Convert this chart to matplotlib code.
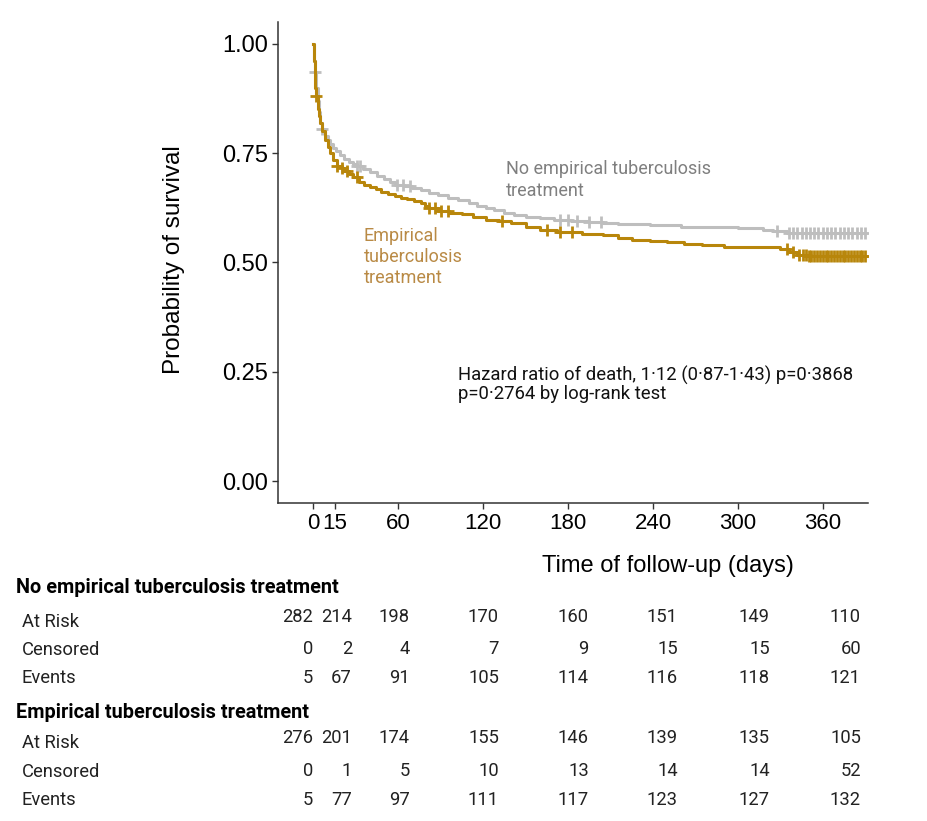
import numpy as np
import matplotlib.pyplot as plt

# Kaplan-Meier steps (days, survival probability)
no_tb_time = [0, 0.3, 0.6, 1, 2, 3, 4, 5, 6, 8, 10, 12, 14, 16, 19, 22, 25, 28, 31,
              35, 40, 45, 50, 54, 58, 64, 70, 76, 82, 88, 95, 102, 110, 116, 122,
              128, 135, 142, 150, 160, 170, 182, 195, 205, 215, 238, 260, 300,
              318, 325, 335, 390]
no_tb_surv = [1.0, 0.982, 0.96, 0.935, 0.90, 0.87, 0.845, 0.82, 0.805, 0.79, 0.78,
              0.77, 0.762, 0.755, 0.745, 0.737, 0.73, 0.725, 0.72, 0.713, 0.706,
              0.698, 0.69, 0.684, 0.678, 0.674, 0.67, 0.665, 0.66, 0.654, 0.648,
              0.642, 0.635, 0.629, 0.624, 0.619, 0.614, 0.609, 0.605, 0.601, 0.598,
              0.596, 0.593, 0.59, 0.588, 0.585, 0.582, 0.578, 0.575, 0.572, 0.567,
              0.567]
no_tb_censor = [1, 6, 31, 33, 59, 63, 68, 174, 180, 186, 195, 203, 328,
                336, 339, 342, 345, 348, 351, 354, 357, 360, 363, 366, 369,
                372, 375, 378, 381, 384, 387, 390]

tb_time = [0, 0.3, 0.7, 1, 1.5, 2, 3, 4, 5, 6, 8, 10, 12, 14, 17, 20, 22, 25, 28,
           32, 36, 40, 44, 48, 53, 58, 62, 66, 71, 76, 79, 82, 88, 96, 105, 113,
           122, 131, 140, 150, 160, 172, 190, 205, 215, 225, 238, 250, 262, 275,
           290, 330, 336, 342, 350, 390]
tb_surv = [1.0, 0.982, 0.96, 0.93, 0.90, 0.88, 0.85, 0.835, 0.82, 0.80, 0.78,
           0.765, 0.75, 0.735, 0.72, 0.715, 0.71, 0.703, 0.695, 0.685, 0.678,
           0.672, 0.667, 0.662, 0.657, 0.652, 0.648, 0.645, 0.64, 0.635, 0.63,
           0.625, 0.618, 0.614, 0.61, 0.604, 0.598, 0.594, 0.59, 0.582, 0.574,
           0.57, 0.566, 0.562, 0.557, 0.552, 0.549, 0.546, 0.543, 0.54, 0.536,
           0.53, 0.525, 0.518, 0.514, 0.514]
tb_censor = [2, 17, 20, 24, 31, 82, 86, 90, 95, 133, 165, 174, 183,
             335, 339, 343, 346, 348, 350, 352, 354, 356, 358, 360, 362, 364,
             366, 368, 370, 372, 374, 376, 378, 380, 382, 384, 386, 388, 390]

x_ticks = [0, 15, 60, 120, 180, 240, 300, 360]
y_ticks = [0.0, 0.25, 0.5, 0.75, 1.0]

# numbers at risk table
row_names = ["At Risk", "Censored", "Events"]
no_tb_at_risk = [282, 214, 198, 170, 160, 151, 149, 110]
no_tb_censored = [0, 2, 4, 7, 9, 15, 15, 60]
no_tb_events = [5, 67, 91, 105, 114, 116, 118, 121]
tb_at_risk = [276, 201, 174, 155, 146, 139, 135, 105]
tb_censored = [0, 1, 5, 10, 13, 14, 14, 52]
tb_events = [5, 77, 97, 111, 117, 123, 127, 132]

GREY = "#BEBEBE"
GOLD = "#B8860B"

W, H = 928, 821
fig = plt.figure(figsize=(W / 100, H / 100), dpi=100)
ax = fig.add_axes([278 / W, 1 - 503 / H, 590 / W, 481 / H])


def surv_at(times, surv, t):
    i = np.searchsorted(times, t, side="right") - 1
    return np.asarray(surv)[i]


for times, surv, cens, col in [(no_tb_time, no_tb_surv, no_tb_censor, GREY),
                               (tb_time, tb_surv, tb_censor, GOLD)]:
    ax.step(times, surv, where="post", color=col, lw=2.2, zorder=3)
    ax.plot(cens, [surv_at(times, surv, c) for c in cens], ls="none",
            marker="+", ms=9, mew=2, color=col, zorder=3)

ax.set_xlim(-25, 392)
ax.set_ylim(-0.05, 1.05)
ax.set_xticks(x_ticks)
ax.set_xticklabels([str(v) for v in x_ticks], fontsize=16,
                   fontfamily="Liberation Sans")
ax.set_yticks(y_ticks)
ax.set_yticklabels([f"{v:.2f}" for v in y_ticks], fontsize=17,
                   fontfamily="Liberation Sans")
ax.tick_params(length=4, width=1, color="#333333", pad=3)
for s in ["top", "right"]:
    ax.spines[s].set_visible(False)
for s in ["left", "bottom"]:
    ax.spines[s].set_color("#333333")
    ax.spines[s].set_linewidth(1.1)


def px(x, y):
    return x / W, 1 - y / H


def lines(x, ys, texts, **kw):
    for y, t in zip(ys, texts):
        fig.text(*px(x, y), t, ha="left", va="center", **kw)


fig.text(*px(174, 260), "Probability of survival", rotation=90, ha="center",
         va="center", fontsize=17.5, fontfamily="Liberation Sans")
fig.text(*px(668, 566), "Time of follow-up (days)", ha="center", va="center",
         fontsize=17, fontfamily="Liberation Sans")

lines(506, [169, 191], ["No empirical tuberculosis", "treatment"],
      fontsize=13, fontfamily="Roboto", color="#7F7F7F")
lines(364, [236, 257, 278], ["Empirical", "tuberculosis", "treatment"],
      fontsize=13, fontfamily="Roboto", color="#B98A45")
lines(458, [375, 394], ["Hazard ratio of death, 1\u00b712 (0\u00b787-1\u00b743) p=0\u00b73868",
                        "p=0\u00b72764 by log-rank test"],
      fontsize=13.3, fontfamily="Roboto", color="#111111")

# risk table below the plot
col_right = [313, 352, 410, 499, 589, 678, 770, 861]
groups = [("No empirical tuberculosis treatment", 587, [617, 649, 678], [622, 650, 678],
           [no_tb_at_risk, no_tb_censored, no_tb_events]),
          ("Empirical tuberculosis treatment", 713, [738, 771, 800], [743, 772, 800],
           [tb_at_risk, tb_censored, tb_events])]
for title, ty, num_y, lab_y, rows in groups:
    fig.text(*px(16, ty), title, ha="left", va="center", fontsize=14.3,
             fontweight="bold", fontfamily="Roboto")
    for name, ny, ly, vals in zip(row_names, num_y, lab_y, rows):
        fig.text(*px(22, ly), name, ha="left", va="center", fontsize=13.2,
                 fontfamily="Roboto", color="#222222")
        for xr, v in zip(col_right, vals):
            fig.text(*px(xr, ny), str(v), ha="right", va="center",
                     fontsize=13.2, fontfamily="Roboto", color="#222222")

fig.savefig("out.png", dpi=100)
